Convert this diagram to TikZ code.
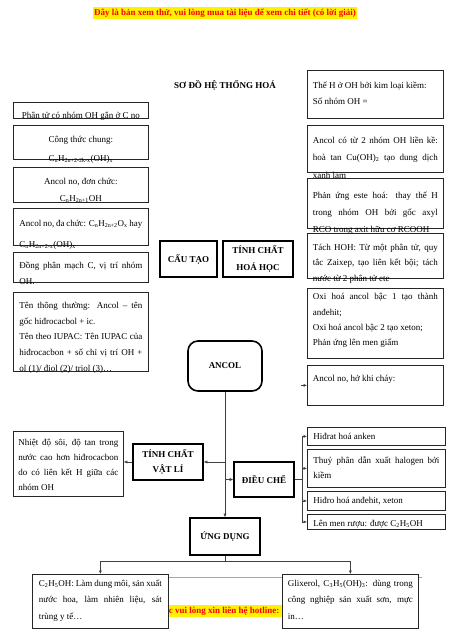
\documentclass[tikz,border=0pt]{standalone}
\usepackage{fontspec}
\setmainfont{Liberation Serif}
\usetikzlibrary{arrows.meta}
\hyphenpenalty=10000
\exhyphenpenalty=10000

\tikzstyle{box} = [draw=black!85, line width=0.8pt, fill=white, anchor=north west,
    inner xsep=6pt, inner ysep=0pt, align=justify, font=\fontsize{9}{15.7}\selectfont]
\tikzstyle{head} = [draw=black, line width=1.6pt, fill=white, align=center,
    inner sep=0pt, font=\fontsize{9}{17}\selectfont\bfseries]
\tikzstyle{link} = [draw=black!75, line width=0.5pt]
\tikzstyle{arr} = [link, -{Latex[length=3.5pt,width=3pt]}]
\tikzstyle{hilite} = [fill=yellow, text=red, inner xsep=1pt, inner ysep=1.5pt,
    font=\fontsize{9}{10}\selectfont\bfseries]

\begin{document}
\begin{tikzpicture}[x=1pt, y=-1pt]
\useasboundingbox (0,0) rectangle (450,637);
\fill[white] (0,0) rectangle (450,637);

% tieu de
\node[hilite] (banthu) at (225,13) {Đây là bản xem thử, vui lòng mua tài liệu để xem chi tiết (có lời giải)};
\node[font=\fontsize{9}{10}\selectfont\bfseries] (tieude) at (225,85) {SƠ ĐỒ HỆ THỐNG HOÁ};

% chan trang
\draw[gray!70, line width=0.8pt] (32,577) -- (422,577);
\node[hilite, anchor=west, minimum width=118pt, align=left] (hotline) at (165,611) {c vui lòng xin liên hệ hotline:};

% cot trai: cau tao
\node[box, align=flush center, text width=123pt, text height=16pt, text depth=0pt] (phantu) at (13,102)
    {Phân tử có nhóm OH gắn ở C no};
\node[box, align=flush center, text width=123pt, text height=17pt, text depth=17pt] (ctchung) at (13,125)
    {Công thức chung:\\[3.3pt] C\textsubscript{n}H\textsubscript{2n+2-2k-x}(OH)\textsubscript{x}};
\node[box, align=flush center, text width=123pt, text height=17pt, text depth=18pt] (donchuc) at (13,167)
    {Ancol no, đơn chức:\\[1.3pt] C\textsubscript{n}H\textsubscript{2n+1}OH};
\node[box, text width=123pt, text height=18pt, text depth=19pt, font=\fontsize{9}{21}\selectfont] (dachuc) at (13,208)
    {Ancol no, đa chức: C\textsubscript{n}H\textsubscript{2n+2}O\textsubscript{x} hay C\textsubscript{n}H\textsubscript{2n+2-x}(OH)\textsubscript{x}};
\node[box, text width=123pt, text height=16pt, text depth=14pt] (dongphan) at (13,252)
    {Đồng phân mạch C, vị trí nhóm OH.};
\node[box, text width=123pt, text height=16pt, text depth=63pt] (danhphap) at (13,292)
    {Tên thông thường: Ancol – tên gốc hiđrocacbol + ic.\\
     Tên theo IUPAC: Tên IUPAC của hiđrocacbon + số chỉ vị trí OH +\linebreak ol (1)/ điol (2)/ triol (3)…};

% cot phai: tinh chat hoa hoc
\node[box, inner xsep=5.5pt, text width=125pt, text height=18pt, text depth=30pt] (kiem) at (307,70)
    {Thế H ở OH bởi kim loại kiềm:\\ Số nhóm OH =};
\node[box, inner xsep=5.5pt, text width=125pt, text height=18pt, text depth=29pt, font=\fontsize{9}{17.5}\selectfont] (cuoh) at (307,125)
    {Ancol có từ 2 nhóm OH liền kề: hoà tan Cu(OH)\textsubscript{2} tạo dung dịch xanh lam};
\node[box, inner xsep=5.5pt, text width=125pt, text height=20pt, text depth=30pt, font=\fontsize{9}{17}\selectfont] (este) at (307,178)
    {Phản ứng este hoá: thay thế H\linebreak trong nhóm OH bởi gốc axyl\linebreak RCO trong axit hữu cơ RCOOH};
\node[box, inner xsep=5.5pt, text width=125pt, text height=17pt, text depth=28pt, font=\fontsize{9}{15.5}\selectfont] (tachhoh) at (307,233)
    {Tách HOH: Từ một phân tử, quy tắc Zaixep, tạo liên kết bội; tách nước từ 2 phân tử ete};
\node[box, inner xsep=5.5pt, text width=125pt, text height=11.5pt, text depth=58.5pt, font=\fontsize{9}{15.3}\selectfont] (oxihoa) at (307,288)
    {Oxi hoá ancol bậc 1 tạo thành\linebreak anđehit;\\ Oxi hoá ancol bậc 2 tạo xeton;\\ Phản ứng lên men giấm};
\node[box, inner xsep=5.5pt, text width=125pt, text height=16pt, text depth=24pt] (chay) at (307,365)
    {Ancol no, hở khi cháy:};

% cac muc chinh
\node[head, minimum width=57pt, minimum height=36pt] (cautao) at (188.5,259) {CẤU TẠO};
\node[head, minimum width=70pt, minimum height=36pt] (hoahoc) at (258,259) {TÍNH CHẤT\\ HOÁ HỌC};
\node[head, rounded corners=10pt, minimum width=74pt, minimum height=50pt] (ancol) at (225,366) {ANCOL};
\node[head, minimum width=70pt, minimum height=36pt, font=\fontsize{9}{15}\selectfont\bfseries] (vatli) at (168,462) {TÍNH CHẤT\\ VẬT LÍ};
\node[head, minimum width=60pt, minimum height=35pt] (dieuche) at (264,479.5) {ĐIỀU CHẾ};
\node[head, minimum width=70pt, minimum height=37pt] (ungdung) at (225,536.5) {ỨNG DỤNG};

% tinh chat vat li
\node[box, inner xsep=5pt, text width=100pt, text height=14pt, text depth=51pt, font=\fontsize{9}{15}\selectfont] (nhietdo) at (13,431)
    {Nhiệt độ sôi, độ tan trong nước cao hơn hiđrocacbon do có liên kết H giữa các nhóm OH};

% dieu che
\node[box, text width=126pt, text height=12pt, text depth=6pt] (hidrat) at (307,427)
    {Hiđrat hoá anken};
\node[box, text width=126pt, text height=14pt, text depth=24pt, font=\fontsize{9}{15}\selectfont] (thuyphan) at (307,449)
    {Thuỷ phân dẫn xuất halogen bởi kiềm};
\node[box, text width=126pt, text height=12pt, text depth=7pt] (hidro) at (307,491)
    {Hiđro hoá anđehit, xeton};
\node[box, text width=126pt, text height=12pt, text depth=3pt] (lenmen) at (307,514)
    {Lên men rượu: được C\textsubscript{2}H\textsubscript{5}OH};

% ung dung
\node[box, inner xsep=6.5pt, text width=123pt, text height=12pt, text depth=42pt, font=\fontsize{9}{16.5}\selectfont] (etanol) at (32,574)
    {C\textsubscript{2}H\textsubscript{5}OH: Làm dung môi, sản xuất nước hoa, làm nhiên liệu, sát\linebreak trùng y tế…};
\node[box, inner xsep=5.5pt, text width=125pt, text height=12pt, text depth=42pt, font=\fontsize{9}{16.5}\selectfont] (glixerol) at (282,574)
    {Glixerol, C\textsubscript{3}H\textsubscript{5}(OH)\textsubscript{3}: dùng trong công nghiệp sản xuất sơn, mực in…};

% duong noi
\draw[arr] (ancol.south) -- (ungdung.north);
\draw[arr] (ancol.south |- vatli.east) -- (vatli.east);
\draw[arr] (vatli.west) -- (nhietdo.east |- vatli.west);
\draw[arr] (ancol.south |- dieuche.west) -- (dieuche.west);
\draw[link] (dieuche.east) -- ++(7,0) coordinate (dcfork);
\draw[link] (dcfork |- hidrat.west) -- (dcfork |- lenmen.west);
\foreach \muc in {hidrat, thuyphan, hidro, lenmen}
    \draw[arr] (dcfork |- \muc.west) -- (\muc.west);
\draw[arr] ([xshift=-6pt]chay.west) -- (chay.west);
\draw[link] (ungdung.south) -- ++(0,5) coordinate (udfork);
\draw[arr] (udfork) -| (etanol.north);
\draw[arr] (udfork) -| (glixerol.north);
\end{tikzpicture}
\end{document}
